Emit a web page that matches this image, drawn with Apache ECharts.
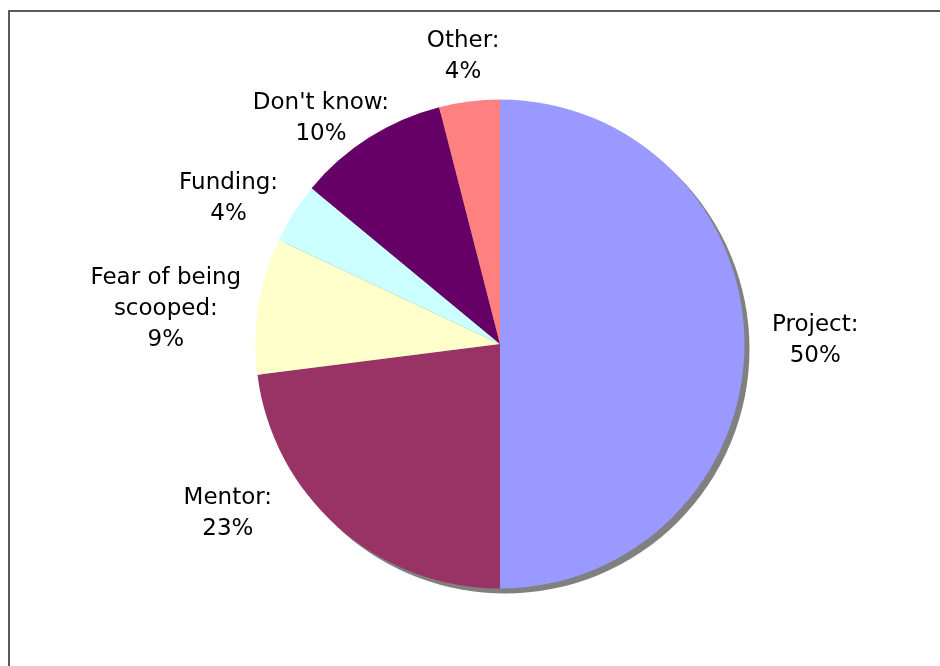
<!DOCTYPE html>
<html>
<head>
<meta charset="utf-8">
<script src="https://cdn.jsdelivr.net/npm/echarts@6/dist/echarts.min.js"></script>
<style>
  html, body { margin: 0; padding: 0; background: #fff; }
  #chart { width: 940px; height: 666px; }
</style>
</head>
<body>
<div id="chart"></div>
<script>
// Survey answers and their share of responses (percent)
const categories = ['Project', 'Mentor', 'Fear of being\nscooped', 'Funding', "Don't know", 'Other'];
const shares = [50, 23, 9, 4, 10, 4];

// Slice fills, in category order
const sliceColors = ['#9999FF', '#993366', '#FFFFCC', '#CCFFFF', '#660066', '#FF8080'];

// Pie geometry (pixels)
const CX = 500, CY = 344, RADIUS = 244.5;
const SHADOW_SHIFT = [5, 5];
const LABEL_GAP = 21.5;
// Small hand adjustments to individual label placements
const labelNudge = [[6, -3], [-67, -53], [3, 14], [-5, 14], [0, 25], [1, 7]];

const total = shares.reduce((a, b) => a + b, 0);
function midAngle(i) {
  let before = 0;
  for (let k = 0; k < i; k++) before += shares[k];
  return (before + shares[i] / 2) / total * 2 * Math.PI;
}

const chart = echarts.init(document.getElementById('chart'), null, { renderer: 'canvas' });

chart.setOption({
  animation: false,
  backgroundColor: '#ffffff',
  graphic: [{
    type: 'rect',
    z: -10,
    silent: true,
    shape: { x: 9, y: 11, width: 980, height: 720 },
    style: { fill: 'none', stroke: '#5a5a5a', lineWidth: 2 }
  }],
  series: [
    {
      // drop shadow under the pie
      type: 'pie',
      silent: true,
      z: 1,
      center: [CX + SHADOW_SHIFT[0], CY + SHADOW_SHIFT[1]],
      radius: RADIUS,
      startAngle: 90,
      clockwise: true,
      data: shares.map(v => ({ value: v })),
      itemStyle: { color: '#808080', borderWidth: 0 },
      label: { show: false },
      labelLine: { show: false },
      emphasis: { disabled: true }
    },
    {
      type: 'pie',
      z: 2,
      center: [CX, CY],
      radius: RADIUS,
      startAngle: 90,
      clockwise: true,
      avoidLabelOverlap: false,
      data: categories.map((c, i) => ({
        name: c,
        value: shares[i],
        itemStyle: { color: sliceColors[i] }
      })),
      itemStyle: { borderWidth: 0 },
      emphasis: { disabled: true },
      label: {
        show: true,
        position: 'outside',
        formatter: p => p.name + ':\n' + p.value + '%',
        fontFamily: 'DejaVu Sans',
        fontSize: 23,
        lineHeight: 31,
        color: '#000000',
        align: 'center'
      },
      labelLine: { show: false },
      labelLayout: function (p) {
        const i = p.dataIndex;
        const a = midAngle(i);
        const ux = Math.sin(a), uy = -Math.cos(a);
        const w = p.labelRect.width, h = p.labelRect.height;
        return {
          x: CX + ux * (RADIUS + LABEL_GAP) + ux * w / 2 + labelNudge[i][0],
          y: CY + uy * (RADIUS + LABEL_GAP) + uy * h / 2 + labelNudge[i][1],
          align: 'center',
          verticalAlign: 'middle'
        };
      }
    }
  ]
});
</script>
</body>
</html>
